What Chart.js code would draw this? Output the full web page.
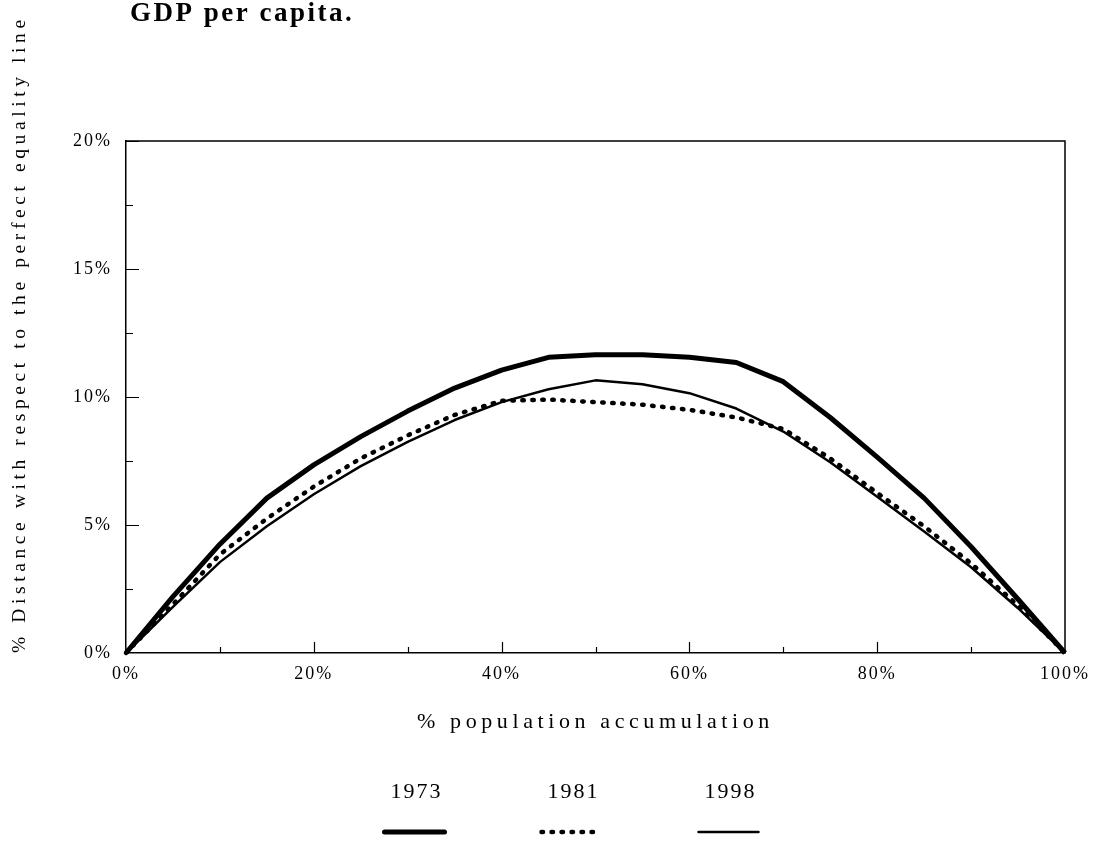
<!DOCTYPE html>
<html>
<head>
<meta charset="utf-8">
<script src="https://cdn.jsdelivr.net/npm/chart.js@4.4.0/dist/chart.umd.min.js"></script>
<style>
    html, body { margin: 0; padding: 0; background: #fff; }
</style>
</head>
<body>
<canvas id="myChart" width="1096" height="843"></canvas>
<script>
'use strict';

{
    /*data*/

    const populationShare = [0, 5, 10, 15, 20, 25, 30, 35, 40, 45, 50, 55, 60, 65, 70, 75, 80, 85, 90, 95, 100];
    const gap1973 = [0, 2.2, 4.25, 6.05, 7.35, 8.45, 9.45, 10.35, 11.05, 11.55, 11.65, 11.65, 11.55, 11.35, 10.6, 9.2, 7.65, 6.05, 4.15, 2.1, 0];
    const gap1981 = [0, 1.9, 3.85, 5.25, 6.5, 7.6, 8.5, 9.3, 9.85, 9.9, 9.8, 9.7, 9.5, 9.2, 8.75, 7.6, 6.25, 4.95, 3.5, 1.85, 0];
    const gap1998 = [0, 1.8, 3.55, 4.95, 6.2, 7.3, 8.25, 9.1, 9.8, 10.3, 10.65, 10.5, 10.15, 9.55, 8.65, 7.45, 6.1, 4.75, 3.35, 1.75, 0];
    const yearLabels = ['1973', '1981', '1998'];
    const xTickValues = [0, 20, 40, 60, 80, 100];
    const yTickValues = [0, 5, 10, 15, 20];

    const chartTitle = 'GDP per capita.';
    const xTitle = '% population accumulation';
    const yTitle = '% Distance with respect to the perfect equality line';

    const serif = '"Liberation Serif", "Times New Roman", serif';

    const toPoints = function(values) {
        return values.map(function(v, i) {
            return { x: populationShare[i], y: v };
        });
    };

    /*letter spacing: axis titles before datasets, tick labels after*/

    const spacingPlugin = {
        id: 'spacing',
        beforeDraw(chart) {
            chart.ctx.letterSpacing = '4.6px';
        },
        afterDatasetsDraw(chart) {
            chart.ctx.letterSpacing = '2px';
        }
    };

    /*inward ticks, box, title and legend*/

    const framePlugin = {
        id: 'frame',
        afterDraw(chart) {
            const ctx = chart.ctx;
            const area = chart.chartArea;
            const xs = chart.scales.x;
            const ys = chart.scales.y;

            ctx.save();
            ctx.strokeStyle = '#000';
            ctx.lineWidth = 1.5;
            ctx.beginPath();
            ctx.moveTo(area.left, area.top);
            ctx.lineTo(area.right, area.top);
            ctx.lineTo(area.right, area.bottom);
            ctx.stroke();

            ctx.lineWidth = 1.2;
            ctx.beginPath();
            for (let v = 2.5; v <= 20; v += 2.5) {
                const py = Math.round(ys.getPixelForValue(v)) + 0.5;
                const len = (v % 5 === 0) ? 13 : 7;
                ctx.moveTo(area.left, py);
                ctx.lineTo(area.left + len, py);
            }
            for (let v = 10; v < 100; v += 10) {
                const px = Math.round(xs.getPixelForValue(v)) + 0.5;
                const len = (v % 20 === 0) ? 11 : 6;
                ctx.moveTo(px, area.bottom);
                ctx.lineTo(px, area.bottom - len);
            }
            ctx.stroke();

            // title
            ctx.fillStyle = '#000';
            ctx.letterSpacing = '2.5px';
            ctx.font = 'bold 27px ' + serif;
            ctx.textAlign = 'left';
            ctx.textBaseline = 'alphabetic';
            ctx.fillText(chartTitle, 130, 21);

            // legend
            const mid = (area.left + area.right) / 2 - 24;
            ctx.font = '22px ' + serif;
            ctx.letterSpacing = '2px';
            ctx.textAlign = 'center';
            ctx.textBaseline = 'middle';
            chart.data.datasets.forEach(function(ds, i) {
                const cx = mid + (i - 1) * 157;
                ctx.fillText(ds.label, cx + 2, 792);
                ctx.lineWidth = ds.borderWidth;
                ctx.setLineDash(ds.borderDash || []);
                ctx.lineCap = 'round';
                ctx.beginPath();
                ctx.moveTo(cx - 30, 832);
                ctx.lineTo(cx + 30, 832);
                ctx.stroke();
            });
            ctx.restore();
        }
    };

    const ctx = document.getElementById('myChart').getContext('2d');

    const chart = new Chart(ctx, {
        type: 'line',
        data: {
            datasets: [{
                label: yearLabels[0],
                data: toPoints(gap1973),
                borderColor: '#000',
                borderWidth: 5,
                borderJoinStyle: 'round',
            },
            {
                label: yearLabels[1],
                data: toPoints(gap1981),
                borderColor: '#000',
                borderWidth: 4.5,
                borderDash: [1.5, 8.5],
                borderCapStyle: 'round',
            },
            {
                label: yearLabels[2],
                data: toPoints(gap1998),
                borderColor: '#000',
                borderWidth: 2.5,
                borderJoinStyle: 'round',
            }]
        },
        options: {
            responsive: false,
            animation: false,
            devicePixelRatio: 1,
            clip: false,
            elements: {
                point: { radius: 0 },
                line: { tension: 0 }
            },
            layout: {
                padding: { top: 141, right: 30, bottom: 0, left: 0 }
            },
            plugins: {
                legend: { display: false },
                title: { display: false },
                tooltip: { enabled: false }
            },
            scales: {
                x: {
                    type: 'linear',
                    min: 0,
                    max: 100,
                    afterFit: function(scale) { scale.height = 190; },
                    afterBuildTicks: function(scale) {
                        scale.ticks = xTickValues.map(function(v) { return { value: v }; });
                    },
                    ticks: {
                        z: 1,
                        padding: 10,
                        color: '#000',
                        maxRotation: 0,
                        autoSkip: false,
                        font: { family: serif, size: 18 },
                        callback: function(v) { return v + '%'; }
                    },
                    grid: { display: false, drawTicks: false },
                    border: { display: true, color: '#000', width: 1.5 },
                    title: {
                        display: true,
                        text: xTitle,
                        color: '#000',
                        font: { family: serif, size: 22 },
                        padding: { top: 0, bottom: 108 }
                    }
                },
                y: {
                    type: 'linear',
                    min: 0,
                    max: 20,
                    afterFit: function(scale) { scale.width = 126; },
                    afterBuildTicks: function(scale) {
                        scale.ticks = yTickValues.map(function(v) { return { value: v }; });
                    },
                    ticks: {
                        z: 1,
                        padding: 14,
                        color: '#000',
                        font: { family: serif, size: 18 },
                        callback: function(v) { return v + '%'; }
                    },
                    grid: { display: false, drawTicks: false },
                    border: { display: true, color: '#000', width: 1.5 },
                    title: {
                        display: true,
                        text: yTitle,
                        align: 'start',
                        color: '#000',
                        font: { family: serif, size: 19.5 },
                        padding: { top: 8, bottom: 0 }
                    }
                }
            }
        },
        plugins: [spacingPlugin, framePlugin]
    });
}
</script>
</body>
</html>
